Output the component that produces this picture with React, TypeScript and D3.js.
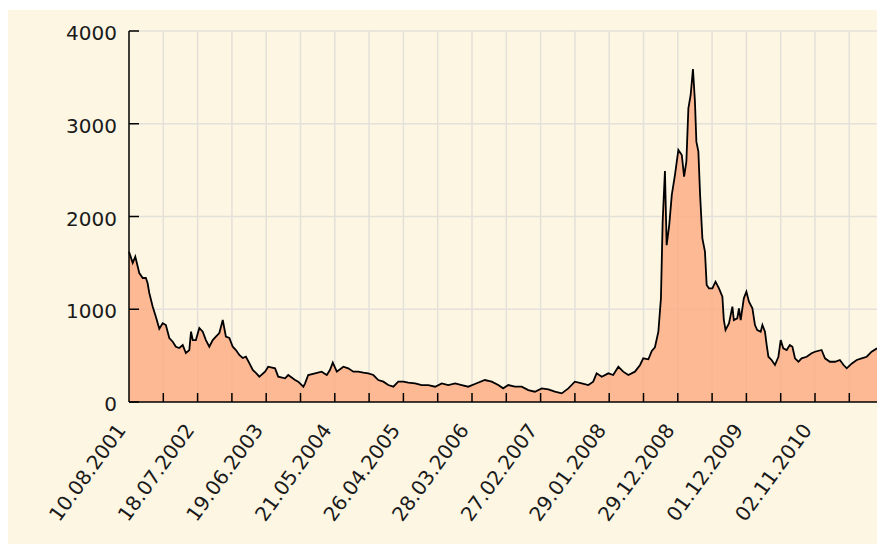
import React from 'react';
import * as d3 from 'd3';

// trading-session index (from first date) and closing value
const sessions = [
  0, 13, 22, 36, 48, 59, 65, 71, 83, 94, 106, 118, 129, 141, 153, 164, 176, 188, 199, 211,
  217, 223, 234, 246, 258, 269, 281, 293, 304, 316, 328, 339, 351, 363, 374, 386, 398, 409, 421, 433,
  444, 456, 476, 487, 511, 522, 546, 557, 581, 592, 610, 616, 627, 651, 674, 692, 703, 713, 727, 750,
  767, 785, 802, 820, 837, 855, 872, 890, 907, 925, 942, 960, 977, 1001, 1024, 1047, 1071, 1094, 1117, 1141,
  1164, 1187, 1210, 1245, 1269, 1292, 1309, 1327, 1350, 1374, 1397, 1420, 1444, 1467, 1490,
  1514, 1537, 1560, 1584, 1607, 1624, 1636, 1654, 1677, 1694, 1712, 1729, 1747, 1770, 1788, 1799, 1817, 1829, 1840,
  1852, 1861, 1867, 1875, 1881, 1890, 1899, 1910, 1922, 1934, 1942, 1950, 1957, 1965, 1973, 1980, 1985, 1992, 1998,
  2006, 2015, 2021, 2029, 2041, 2052,
  2064, 2076, 2081, 2087, 2099, 2111, 2116, 2128, 2134, 2140, 2151, 2160, 2169, 2181, 2190, 2198, 2210, 2216, 2225,
  2231, 2237, 2248, 2260, 2272, 2280, 2289, 2301, 2312, 2321, 2330, 2342, 2353, 2371, 2388, 2400, 2423, 2435, 2452,
  2470, 2487, 2500, 2511, 2529, 2546, 2563, 2581, 2598, 2617,
];
const prices = [
  1620, 1500, 1567, 1390, 1337, 1337, 1283, 1175, 1028, 920, 790, 850, 830, 690, 650, 596, 582, 614, 528, 560,
  758, 668, 668, 798, 758, 668, 596, 668, 704, 744, 884, 704, 690, 596, 560, 507, 474, 488, 420, 345,
  313, 273, 327, 381, 363, 273, 255, 291, 237, 219, 165, 201, 291, 309, 327, 291, 345, 424, 327, 381,
  363, 327, 327, 316, 309, 291, 237, 219, 183, 165, 219, 219, 208, 201, 183, 183, 165, 201, 183, 201,
  183, 165, 194, 237, 219, 183, 147, 183, 165, 165, 129, 111, 147, 136, 111,
  93, 147, 219, 201, 183, 219, 309, 273, 309, 291, 381, 327, 291, 327, 399, 471, 460, 550, 590,
  758, 1118, 1944, 2490, 1690, 1908, 2232, 2447, 2717, 2663, 2429, 2591, 3166, 3310, 3590, 3238, 2807, 2699, 2232,
  1765, 1621, 1261, 1226, 1226, 1297,
  1226, 1136, 884, 776, 848, 1028, 884, 902, 1010, 884, 1118, 1189, 1081, 1010, 830, 776, 758, 830, 758,
  614, 488, 453, 399, 488, 668, 579, 561, 614, 596, 471, 434, 471, 488, 525, 542, 561, 471, 434,
  434, 453, 399, 363, 416, 453, 471, 488, 542, 579,
];
const dateLabels = [
  '10.08.2001', '18.07.2002', '19.06.2003', '21.05.2004', '26.04.2005', '28.03.2006',
  '27.02.2007', '29.01.2008', '29.12.2008', '01.12.2009', '02.11.2010',
];
const yTicks = [0, 1000, 2000, 3000, 4000];

const W = 877;
const H = 544;
const SESSIONS_PER_TICK = 120;
const SESSIONS_PER_LABEL = 240;
const FONT = '"DejaVu Sans", Verdana, sans-serif';

const App = () => {
  const x = d3.scaleLinear().domain([0, SESSIONS_PER_LABEL * 10]).range([129, 815]);
  const y = d3.scaleLinear().domain([0, 4000]).range([402, 31]);

  const points: [number, number][] = sessions.map((s, i) => [s, prices[i]]);
  const area = d3.area<[number, number]>()
    .x(d => x(d[0]))
    .y0(y(0))
    .y1(d => y(d[1]));
  const line = d3.line<[number, number]>()
    .x(d => x(d[0]))
    .y(d => y(d[1]));

  const maxSession = x.invert(W);
  const xTicks = d3.range(SESSIONS_PER_TICK, maxSession, SESSIONS_PER_TICK);

  return (
    <svg width={W} height={H} style={{ position: 'absolute', left: 0, top: 0 }}>
      <rect x={0} y={0} width={W} height={H} fill="#ffffff" />
      <rect x={8} y={10} width={W - 8} height={H - 10} fill="#fdf6e3" />

      {/* grid */}
      <g stroke="#e4e0da" strokeWidth={1.5}>
        {xTicks.map(t => (
          <line key={'gx' + t} x1={x(t)} x2={x(t)} y1={y(4000)} y2={y(0)} />
        ))}
        {yTicks.filter(t => t > 0).map(t => (
          <line key={'gy' + t} x1={x(0)} x2={W} y1={y(t)} y2={y(t)} />
        ))}
      </g>

      <path d={area(points) ?? ''} fill="#fdaa80" fillOpacity={0.8} />
      <path d={line(points) ?? ''} fill="none" stroke="#000" strokeWidth={1.8} strokeLinejoin="miter" />

      {/* axes */}
      <g stroke="#000" strokeWidth={1.5}>
        <line x1={x(0)} x2={x(0)} y1={y(4000)} y2={y(0)} />
        <line x1={x(0)} x2={W} y1={y(0)} y2={y(0)} />
        {yTicks.map(t => (
          <line key={'ty' + t} x1={x(0)} x2={x(0) + 10} y1={y(t)} y2={y(t)} />
        ))}
        {xTicks.map(t => (
          <line key={'tx' + t} x1={x(t)} x2={x(t)} y1={y(0)} y2={y(0) - 9} />
        ))}
      </g>

      <g fontFamily={FONT} fontSize={20} fill="#1a1a1a">
        {yTicks.map(t => (
          <text key={'ly' + t} x={117} y={y(t) + 2} dy="0.35em" textAnchor="end">
            {t}
          </text>
        ))}
        {dateLabels.map((lbl, i) => (
          <text
            key={lbl}
            transform={`translate(${x(i * SESSIONS_PER_LABEL) - 8},${y(0) + 24}) rotate(-54)`}
            dy="0.35em"
            textAnchor="end"
          >
            {lbl}
          </text>
        ))}
      </g>
    </svg>
  );
};

export default App;
